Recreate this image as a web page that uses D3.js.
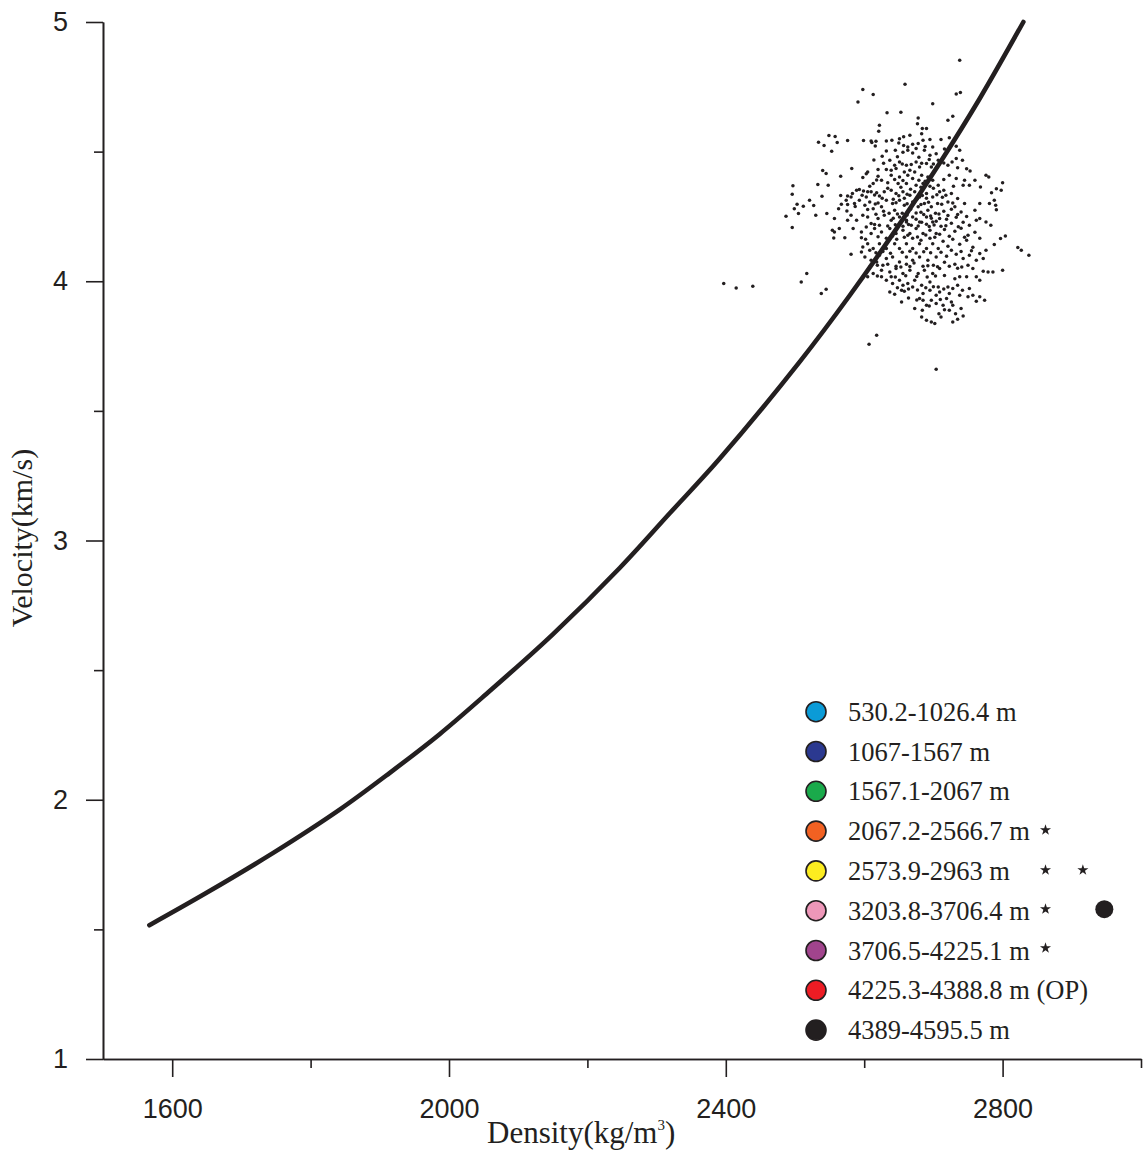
<!DOCTYPE html>
<html>
<head>
<meta charset="utf-8">
<script src="https://cdn.jsdelivr.net/npm/d3@7"></script>
<style>
  body { margin: 0; background: #fff; }
  svg { display: block; }
</style>
</head>
<body>
<div class="canva"></div>
<script>
// fitted curve
var curveDensity  = [1567, 1649, 1746, 1842, 1914, 1986, 2054, 2150, 2247, 2319, 2391, 2507, 2579, 2646, 2709, 2767, 2830];
var curveVelocity = [1.516, 1.640, 1.795, 1.962, 2.103, 2.252, 2.408, 2.638, 2.895, 3.105, 3.315, 3.690, 3.945, 4.200, 4.455, 4.705, 5.0];

// measured samples [density, velocity]
var scatterPoints = [
[2738,4.852],[2659,4.760],[2733,4.722],[2739,4.728],[2699,4.685],[2598,4.740],[2613,4.720],[2591,4.691],[2633,4.650],[2653,4.652],
[2678,4.630],[2677,4.608],[2721,4.621],[2728,4.636],[2684,4.589],[2690,4.589],[2683,4.569],[2622,4.602],[2621,4.579],[2549,4.562],
[2558,4.558],[2534,4.536],[2561,4.535],[2542,4.524],[2576,4.543],[2599,4.543],[2610,4.541],[2611,4.535],[2617,4.540],[2616,4.522],
[2632,4.541],[2640,4.544],[2651,4.550],[2657,4.557],[2666,4.563],[2650,4.533],[2657,4.524],[2663,4.518],[2670,4.528],[2678,4.531],
[2685,4.544],[2695,4.547],[2699,4.518],[2711,4.547],[2723,4.554],[2733,4.521],[2738,4.505],[2742,4.467],[2733,4.473],[2553,4.501],
[2614,4.468],[2626,4.482],[2632,4.502],[2656,4.498],[2663,4.505],[2670,4.495],[2687,4.505],[2695,4.486],[2704,4.492],[2620,4.431],
[2582,4.435],[2540,4.427],[2545,4.416],[2566,4.405],[2620,4.405],[2603,4.415],[2598,4.400],[2651,4.460],[2644,4.447],[2661,4.447],
[2675,4.460],[2680,4.441],[2690,4.454],[2697,4.441],[2707,4.467],[2721,4.447],[2735,4.438],[2748,4.434],[2753,4.425],[2605,4.421],
[2632,4.431],[2639,4.428],[2646,4.435],[2658,4.421],[2666,4.428],[2673,4.421],[2639,4.409],[2651,4.402],[2663,4.409],[2670,4.396],
[2683,4.409],[2692,4.402],[2699,4.390],[2723,4.409],[2733,4.396],[2760,4.390],[2776,4.409],[2780,4.402],[2800,4.380],[2625,4.390],
[2613,4.377],[2634,4.380],[2649,4.377],[2661,4.377],[2675,4.370],[2685,4.377],[2695,4.366],[2707,4.370],[2743,4.370],[2752,4.370],
[2768,4.364],[2791,4.357],[2798,4.351],[2784,4.341],[2497,4.368],[2533,4.373],[2548,4.370],[2608,4.366],[2593,4.354],[2599,4.348],
[2605,4.345],[2610,4.345],[2618,4.341],[2496,4.336],[2539,4.328],[2566,4.331],[2576,4.329],[2583,4.338],[2597,4.332],[2603,4.325],
[2589,4.351],[2629,4.345],[2639,4.351],[2646,4.338],[2656,4.345],[2666,4.332],[2673,4.345],[2680,4.325],[2690,4.338],[2699,4.325],
[2709,4.345],[2726,4.338],[2735,4.319],[2745,4.300],[2731,4.287],[2740,4.267],[2721,4.306],[2767,4.300],[2760,4.274],[2788,4.312],
[2790,4.293],[2791,4.276],[2781,4.300],[2521,4.312],[2512,4.289],[2503,4.297],[2505,4.261],[2499,4.280],[2487,4.251],[2496,4.207],
[2527,4.292],[2546,4.261],[2530,4.255],[2557,4.242],[2554,4.197],[2557,4.190],[2572,4.168],[2564,4.203],[2574,4.312],[2581,4.325],
[2563,4.280],[2567,4.297],[2576,4.296],[2587,4.288],[2575,4.271],[2586,4.300],[2593,4.312],[2601,4.293],[2608,4.306],[2613,4.280],
[2605,4.277],[2616,4.298],[2625,4.287],[2632,4.312],[2641,4.300],[2651,4.312],[2658,4.293],[2670,4.306],[2678,4.287],[2687,4.300],
[2697,4.287],[2706,4.300],[2581,4.255],[2589,4.235],[2598,4.255],[2605,4.248],[2610,4.223],[2620,4.242],[2629,4.255],[2639,4.235],
[2651,4.248],[2661,4.229],[2670,4.248],[2680,4.229],[2690,4.248],[2699,4.229],[2709,4.242],[2584,4.203],[2596,4.190],[2603,4.209],
[2615,4.203],[2625,4.190],[2637,4.203],[2646,4.184],[2656,4.197],[2666,4.184],[2675,4.203],[2685,4.184],[2695,4.197],[2704,4.184],
[2581,4.104],[2598,4.132],[2605,4.145],[2613,4.126],[2622,4.145],[2632,4.126],[2644,4.145],[2651,4.126],[2661,4.145],[2670,4.126],
[2680,4.145],[2690,4.126],[2699,4.145],[2707,4.126],[2601,4.094],[2610,4.081],[2622,4.100],[2632,4.088],[2641,4.094],[2651,4.074],
[2661,4.094],[2670,4.081],[2680,4.094],[2692,4.081],[2704,4.094],[2608,4.055],[2613,4.030],[2625,4.042],[2637,4.036],[2646,4.049],
[2656,4.030],[2666,4.042],[2678,4.030],[2687,4.042],[2699,4.030],[2709,4.049],[2632,4.004],[2641,3.991],[2651,4.004],[2663,3.991],
[2673,4.004],[2683,3.985],[2695,3.997],[2707,3.978],[2637,3.959],[2644,3.950],[2654,3.965],[2654,3.920],[2673,3.895],[2685,3.927],
[2690,3.907],[2697,3.927],[2704,3.914],[2684,3.888],[2683,3.862],[2690,3.850],[2697,3.843],[2702,3.837],[2709,3.959],[2397,3.991],
[2415,3.974],[2439,3.981],[2509,3.997],[2517,4.030],[2538,3.953],[2545,3.969],[2618,3.792],[2607,3.757],[2704,3.661],
[2767,4.242],[2776,4.229],[2783,4.216],[2804,4.175],[2797,4.165],[2788,4.142],[2822,4.130],[2827,4.120],[2838,4.100],[2776,4.120],
[2767,4.107],[2772,4.088],[2762,4.081],[2752,4.100],[2743,4.088],[2750,4.062],[2757,4.049],[2772,4.039],[2779,4.036],[2786,4.036],
[2800,4.042],[2762,4.017],[2767,4.004],[2748,4.017],[2738,4.017],[2731,4.010],[2735,3.985],[2728,3.972],[2721,3.978],[2723,3.953],
[2738,3.946],[2750,3.940],[2757,3.946],[2767,3.940],[2762,3.923],[2774,3.927],[2752,3.972],[2719,3.933],[2726,3.920],[2714,3.907],
[2728,3.907],[2723,3.888],[2732,3.875],[2743,3.866],[2711,3.862],[2728,3.843],[2735,3.853],[2625,4.017],[2639,4.017],[2656,3.985],
[2670,3.978],[2685,3.953],[2695,3.965],[2704,3.946],[2680,3.933],[2658,3.961],
[2642,4.243],[2651,4.224],[2661,4.235],[2668,4.216],[2675,4.239],[2683,4.228],[2690,4.220],[2697,4.243],[2704,4.231],[2711,4.212],
[2719,4.239],[2726,4.224],[2733,4.247],[2743,4.228],[2752,4.216],[2762,4.235],
[2709,4.181],[2716,4.200],[2723,4.174],[2731,4.193],[2740,4.204],[2750,4.177],[2760,4.189],[2767,4.166],
[2714,4.154],[2721,4.135],[2728,4.162],[2738,4.143],[2748,4.158],[2757,4.131],
[2711,4.112],[2719,4.096],[2726,4.120],[2733,4.104],
[2716,4.073],[2723,4.058],[2731,4.066],[2735,4.050],
[2634,4.359],[2653,4.363],[2667,4.355],[2682,4.363],[2700,4.359],[2715,4.351],[2729,4.366],
[2628,4.270],[2644,4.274],[2655,4.262],[2667,4.278],[2682,4.266],[2692,4.274],[2703,4.262],[2715,4.270],[2726,4.278],
[2632,4.166],[2647,4.162],[2658,4.170],[2670,4.166],[2682,4.158],[2695,4.166],
[2619,4.062],[2634,4.066],[2646,4.058],[2661,4.066],[2672,4.070],[2685,4.058],[2700,4.062],
[2626,4.320],[2642,4.316],[2658,4.320],[2676,4.316],[2690,4.320],[2713,4.324],
[2628,4.455],[2637,4.467],
[2556,4.167],[2602,4.162],[2596,4.168],[2615,4.219],[2610,4.184],[2608,4.120],[2605,4.017],[2618,4.074],[2576,4.235],
[2596,4.113],[2617,4.110],[2627,4.115],[2638,4.108],[2655,4.112],[2666,4.116],[2675,4.109],[2686,4.114],[2696,4.110],[2740,4.115],[2755,4.118],
[2620,4.172],[2641,4.175],[2663,4.177],[2677,4.171],[2689,4.178],[2702,4.170],[2745,4.170],
[2622,4.216],[2634,4.213],[2645,4.218],[2656,4.212],[2664,4.219],[2678,4.213],[2694,4.211],[2701,4.217],[2718,4.214],[2736,4.210],
[2617,4.258],[2636,4.262],[2648,4.259],[2662,4.256],[2675,4.263],[2686,4.257],[2696,4.252],[2708,4.259],[2721,4.254],[2735,4.257],[2748,4.250],
[2620,4.302],[2646,4.303],[2662,4.299],[2682,4.296],[2693,4.305],[2712,4.297],[2728,4.302],
[2615,4.333],[2622,4.329],[2650,4.330],[2662,4.336],[2684,4.331],[2705,4.334],[2718,4.332],
[2618,4.391],[2644,4.392],[2656,4.389],[2679,4.390],[2688,4.386],[2715,4.392],[2745,4.390],
[2655,4.452],[2668,4.450],[2683,4.455],[2700,4.452],[2715,4.456],[2727,4.460],
[2627,4.062],[2653,4.055],[2666,4.057],[2692,4.060],[2706,4.056],[2741,4.055],
[2619,4.020],[2645,4.016],[2660,4.021],[2676,4.018],[2691,4.016],[2703,4.020],[2716,4.022],
[2648,3.975],[2664,3.970],[2677,3.966],[2689,3.975],[2700,3.979],[2715,3.970],[2742,3.965],
[2664,3.935],[2676,3.928],[2710,3.930],[2694,3.905],[2716,3.890],[2708,3.875],[2740,3.895],
[2645,4.505],[2675,4.512],[2688,4.520],[2716,4.510],[2648,4.480],[2679,4.478],[2694,4.470]
];

// odd markers near the legend
var starPoints = [[2862, 1.883], [2862, 1.729], [2916, 1.729], [2862, 1.578], [2862, 1.428]];
var bigDotPoints = [[2947, 1.578]];

var legendLabels = ["530.2-1026.4 m", "1067-1567 m", "1567.1-2067 m", "2067.2-2566.7 m", "2573.9-2963 m",
                    "3203.8-3706.4 m", "3706.5-4225.1 m", "4225.3-4388.8 m (OP)", "4389-4595.5 m"];
var legendColors = ["#0b9bd7", "#2b3990", "#1aaa4b", "#f26122", "#fcec20",
                    "#ee97b9", "#a1448d", "#ed1c24", "#231f20"];

var xMajorTicks = [1600, 2000, 2400, 2800];
var xMinorTicks = [1800, 2200, 2600, 3000];
var yMajorTicks = [1, 2, 3, 4, 5];
var yMinorTicks = [1.5, 2.5, 3.5, 4.5];

var ink = "#231f20";
const margin = {top: 22, right: 3, bottom: 94, left: 103};
const width = 1144 - margin.left - margin.right;
const height = 1153 - margin.top - margin.bottom;

const svg = d3.select(".canva").append("svg")
    .attr("width", 1144)
    .attr("height", 1153);

svg.append("rect").attr("width", 1144).attr("height", 1153).attr("fill", "#fff");

const g = svg.append("g")
    .attr("transform", `translate(${margin.left}, ${margin.top})`);

var x = d3.scaleLinear().domain([1500, 3000]).range([0, width]);
var y = d3.scaleLinear().domain([1, 5]).range([height, 0]);

// axes
var xAxis = g.append("g")
    .attr("transform", `translate(0, ${height})`)
    .call(d3.axisBottom(x).tickValues(xMajorTicks).tickFormat(d3.format("d"))
        .tickSize(18).tickPadding(22).tickSizeOuter(0));
var xAxisMinor = g.append("g")
    .attr("transform", `translate(0, ${height})`)
    .call(d3.axisBottom(x).tickValues(xMinorTicks).tickSize(9).tickFormat("").tickSizeOuter(0));
var yAxis = g.append("g")
    .call(d3.axisLeft(y).tickValues(yMajorTicks).tickFormat(d3.format("d"))
        .tickSize(17).tickPadding(18).tickSizeOuter(0));
var yAxisMinor = g.append("g")
    .call(d3.axisLeft(y).tickValues(yMinorTicks).tickSize(9).tickFormat("").tickSizeOuter(0));

[xAxis, xAxisMinor, yAxis, yAxisMinor].forEach(function(a) {
    a.selectAll("path, line").attr("stroke", ink).attr("stroke-width", 1.6);
    a.selectAll("text")
        .attr("fill", ink)
        .style("font-family", "'Liberation Sans', Arial, sans-serif")
        .style("font-size", "27px");
});

// curve
var valueLine = d3.line()
    .x(function(d, i) { return x(curveDensity[i]); })
    .y(function(d) { return y(d); })
    .curve(d3.curveCatmullRom);

g.append("path")
    .datum(curveVelocity)
    .attr("fill", "none")
    .attr("stroke", ink)
    .attr("stroke-width", 4.6)
    .attr("stroke-linecap", "round")
    .attr("d", valueLine);

// samples
g.selectAll(".dot")
    .data(scatterPoints)
    .enter()
    .append("circle")
    .attr("class", "dot")
    .attr("cx", d => x(d[0]))
    .attr("cy", d => y(d[1]))
    .attr("r", 1.75)
    .attr("fill", ink);

g.selectAll(".star")
    .data(starPoints)
    .enter()
    .append("path")
    .attr("class", "star")
    .attr("transform", d => `translate(${x(d[0])}, ${y(d[1])})`)
    .attr("d", d3.symbol().type(d3.symbolStar).size(38))
    .attr("fill", ink);

g.selectAll(".bigdot")
    .data(bigDotPoints)
    .enter()
    .append("circle")
    .attr("cx", d => x(d[0]))
    .attr("cy", d => y(d[1]))
    .attr("r", 9)
    .attr("fill", ink);

// legend
var legendX = 816, legendY = 711.7, legendStep = 39.8;
var legend = svg.append("g");
legend.selectAll("circle")
    .data(legendLabels)
    .enter()
    .append("circle")
    .attr("cx", legendX)
    .attr("cy", (d, i) => legendY + i * legendStep)
    .attr("r", 10)
    .attr("fill", (d, i) => legendColors[i])
    .attr("stroke", ink)
    .attr("stroke-width", 1.6);
legend.selectAll("text")
    .data(legendLabels)
    .enter()
    .append("text")
    .attr("x", legendX + 32)
    .attr("y", (d, i) => legendY + i * legendStep)
    .attr("dy", "0.34em")
    .attr("fill", ink)
    .style("font-family", "'Liberation Serif', 'Times New Roman', serif")
    .style("font-size", "26.5px")
    .text(d => d);

// axis titles
var xTitle = svg.append("text")
    .attr("x", 487)
    .attr("y", 1143)
    .attr("fill", ink)
    .style("font-family", "'Liberation Serif', 'Times New Roman', serif")
    .style("font-size", "31px");
xTitle.append("tspan").text("Density(kg/m");
xTitle.append("tspan").attr("dy", -13).style("font-size", "15px").text("3");
xTitle.append("tspan").attr("dy", 13).text(")");

svg.append("text")
    .attr("transform", "translate(32, 538) rotate(-90)")
    .attr("text-anchor", "middle")
    .attr("fill", ink)
    .style("font-family", "'Liberation Serif', 'Times New Roman', serif")
    .style("font-size", "30px")
    .text("Velocity(km/s)");
</script>
</body>
</html>
